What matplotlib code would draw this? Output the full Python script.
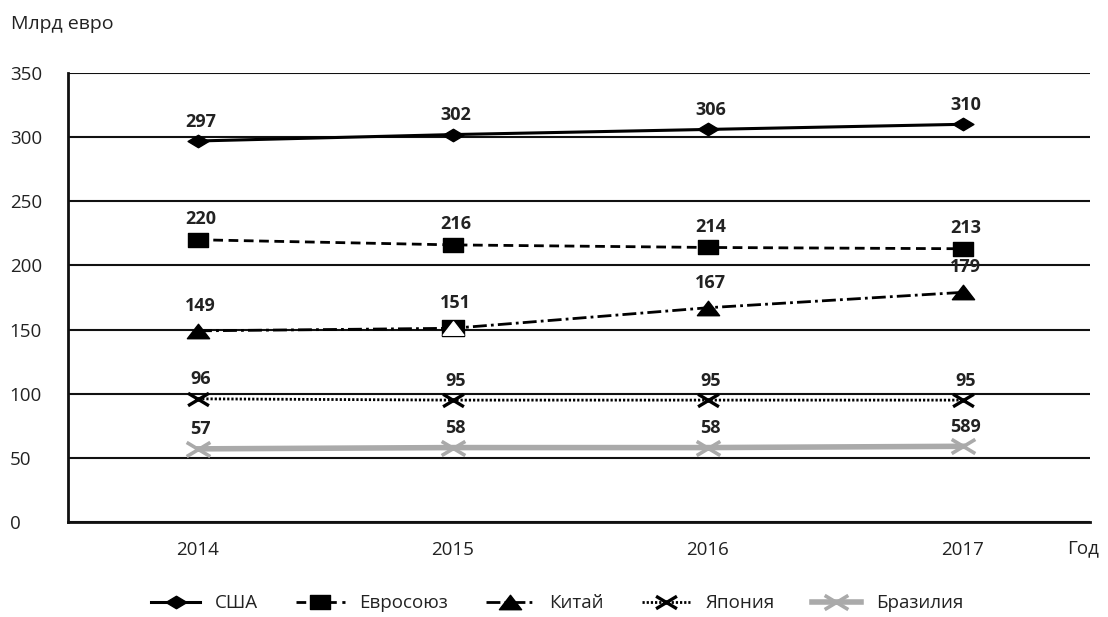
import matplotlib
matplotlib.use("Agg")
import matplotlib.pyplot as plt
from matplotlib.path import Path
from matplotlib.lines import Line2D

plt.rcParams["font.family"] = ["Open Sans", "DejaVu Sans"]

years = ["2014", "2015", "2016", "2017"]
usa = [297, 302, 306, 310]
eu = [220, 216, 214, 213]
china = [149, 151, 167, 179]
japan = [96, 95, 95, 95]
brazil = [57, 58, 58, 59]
brazil_labels = ["57", "58", "58", "589"]

series_names = ["США", "Евросоюз", "Китай", "Япония", "Бразилия"]
y_ticks = [0, 50, 100, 150, 200, 250, 300, 350]

# flattened marker shapes
diamond = Path([(-1, 0), (0, 0.6), (1, 0), (0, -0.6), (-1, 0)],
               [Path.MOVETO, Path.LINETO, Path.LINETO, Path.LINETO, Path.CLOSEPOLY])
rect = Path([(-1, -0.68), (1, -0.68), (1, 0.68), (-1, 0.68), (-1, -0.68)],
            [Path.MOVETO, Path.LINETO, Path.LINETO, Path.LINETO, Path.CLOSEPOLY])
tri = Path([(-1, -0.65), (1, -0.65), (0, 0.65), (-1, -0.65)],
           [Path.MOVETO, Path.LINETO, Path.LINETO, Path.CLOSEPOLY])
cross = Path([(-1, -0.6), (1, 0.6), (-1, 0.6), (1, -0.6)],
             [Path.MOVETO, Path.LINETO, Path.MOVETO, Path.LINETO])

fig = plt.figure(figsize=(11.08, 6.17), dpi=100)
ax = fig.add_axes([0.0614, 0.154, 0.9224, 0.7277])
x = list(range(len(years)))

styles = [
    dict(color="black", lw=2.2, ls="-", marker=diamond, ms=15, mfc="black", mec="black"),
    dict(color="black", lw=2.0, ls=(0, (3.5, 2)), marker=rect, ms=15, mfc="black", mec="black"),
    dict(color="black", lw=2.0, ls=(0, (5, 1.5, 1, 1.5)), marker=tri, ms=16, mfc="black", mec="black"),
    dict(color="black", lw=2.0, ls=(0, (0.8, 0.7)), marker=cross, ms=15, mew=2.4, mec="black"),
    dict(color="#aaaaaa", lw=4.0, ls="-", marker=cross, ms=17, mew=2.6, mec="#aaaaaa"),
]
values = [usa, eu, china, japan, brazil]
texts = [[str(v) for v in usa], [str(v) for v in eu], [str(v) for v in china],
         [str(v) for v in japan], brazil_labels]
# vertical distance (points) from each marker to the centre of its value label
offsets = [14, 15, 18, 14, 14]

handles = []
for vals, st, lab, off, name in zip(values, styles, texts, offsets, series_names):
    ax.plot(x, vals, zorder=3, **st)
    handles.append(Line2D([], [], **st))
    for xi, v, t in zip(x, vals, lab):
        ax.annotate(t, (xi, v), xytext=(2, off), textcoords="offset points",
                    ha="center", va="center", fontsize=13, fontweight="bold",
                    color="#222222", zorder=5)

# hollow triangle at the 2015 China point
ax.plot([x[1]], [china[1]], marker=rect, ms=16, mfc="black", mec="black", ls="none", zorder=4)
ax.plot([x[1]], [china[1]], marker=tri, ms=15, mfc="white", mec="white", ls="none", zorder=4)

ax.set_xlim(-0.51, 3.5)
ax.set_ylim(0, 350)
ax.set_xticks(x)
ax.set_xticklabels(years)
ax.set_yticks(y_ticks)
ax.set_yticklabels([str(t) for t in y_ticks])
ax.tick_params(axis="both", length=0, labelsize=13.5, colors="#222222")
ax.tick_params(axis="x", pad=14)
ax.tick_params(axis="y", pad=42)
for lbl in ax.get_yticklabels():
    lbl.set_horizontalalignment("left")

ax.yaxis.grid(True, color="#111111", lw=1.5)
ax.set_axisbelow(True)
for s in ["top", "right"]:
    ax.spines[s].set_visible(False)
for s in ["left", "bottom"]:
    ax.spines[s].set_linewidth(2)
    ax.spines[s].set_color("#111111")

fig.text(0.0095, 0.961, "Млрд евро", fontsize=14, color="#222222", va="center", ha="left")
fig.text(0.963, 0.111, "Год", fontsize=13.5, color="#222222", va="center", ha="left")

leg = fig.legend(handles, series_names, loc="center", bbox_to_anchor=(0.503, 0.022),
                 ncol=5, frameon=False, fontsize=13.5, handlelength=2.6,
                 columnspacing=2.0, handletextpad=0.8)
for t in leg.get_texts():
    t.set_color("#222222")

fig.savefig("out.png", dpi=100)
